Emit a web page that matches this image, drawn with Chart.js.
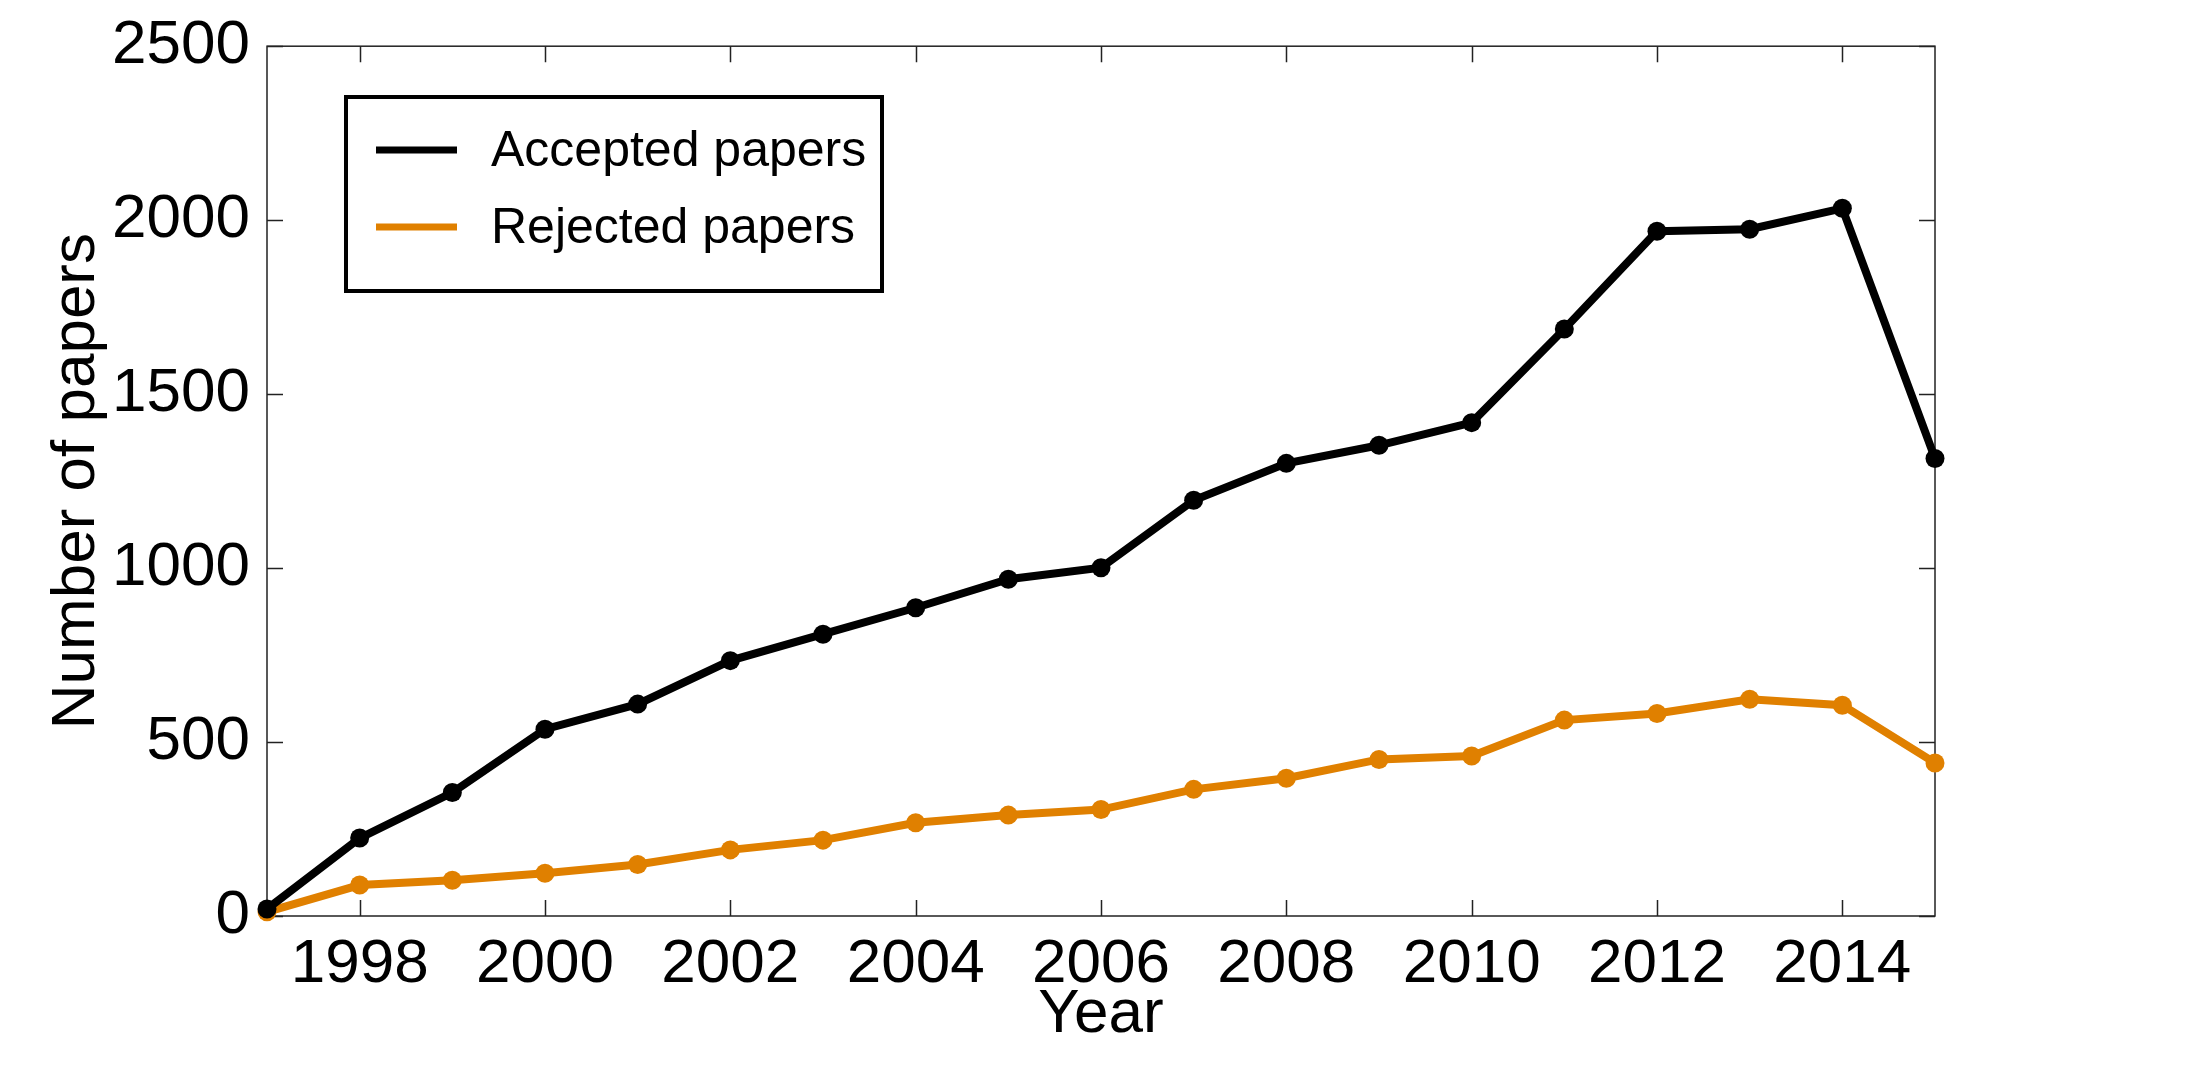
<!DOCTYPE html>
<html>
<head>
<meta charset="utf-8">
<title>Number of papers</title>
<script src="https://cdn.jsdelivr.net/npm/chart.js@4"></script>
<style>
  html, body { margin: 0; padding: 0; background: #fff; }
  canvas { display: block; }
</style>
</head>
<body>
<canvas id="papersChart" width="2194" height="1078"></canvas>
<script>
// Data
const years = [1997, 1998, 1999, 2000, 2001, 2002, 2003, 2004, 2005, 2006,
  2007, 2008, 2009, 2010, 2011, 2012, 2013, 2014, 2015];
const accepted = [20, 224, 355, 537, 609, 734, 810, 886, 968, 1001,
  1195, 1301, 1353, 1418, 1687, 1968, 1974, 2034, 1315];
const rejected = [12, 89, 103, 123, 148, 190, 218, 268, 290, 306,
  364, 396, 450, 460, 563, 582, 623, 606, 440];
const xTicks = [1998, 2000, 2002, 2004, 2006, 2008, 2010, 2012, 2014];
const yTicks = [0, 500, 1000, 1500, 2000, 2500];

const FONT = "'Liberation Sans', Arial, Helvetica, sans-serif";
const ORANGE = "rgb(224, 128, 0)";

// Frame with inward tick marks on all four sides (matlab style)
const frameTicks = {
  id: "frameTicks",
  beforeDatasetsDraw(chart) {
    const { ctx, chartArea: a, scales } = chart;
    const len = 16;
    ctx.save();
    ctx.strokeStyle = "#222";
    ctx.lineWidth = 1.5;
    ctx.strokeRect(a.left, a.top, a.right - a.left, a.bottom - a.top);
    ctx.beginPath();
    xTicks.forEach((v) => {
      const x = Math.round(scales.x.getPixelForValue(v)) + 0.5;
      ctx.moveTo(x, a.bottom);
      ctx.lineTo(x, a.bottom - len);
      ctx.moveTo(x, a.top);
      ctx.lineTo(x, a.top + len);
    });
    yTicks.forEach((v) => {
      const y = Math.round(scales.y.getPixelForValue(v)) + 0.5;
      ctx.moveTo(a.left, y);
      ctx.lineTo(a.left + len, y);
      ctx.moveTo(a.right, y);
      ctx.lineTo(a.right - len, y);
    });
    ctx.stroke();
    ctx.restore();
  }
};

// Boxed legend in the upper left corner
const boxLegend = {
  id: "boxLegend",
  afterDraw(chart) {
    const { ctx } = chart;
    const box = { left: 346, top: 97, right: 882, bottom: 291 };
    ctx.save();
    ctx.fillStyle = "#fff";
    ctx.fillRect(box.left, box.top, box.right - box.left, box.bottom - box.top);
    ctx.strokeStyle = "#000";
    ctx.lineWidth = 4;
    ctx.strokeRect(box.left, box.top, box.right - box.left, box.bottom - box.top);
    ctx.font = "50px " + FONT;
    ctx.textBaseline = "middle";
    ctx.textAlign = "left";
    chart.data.datasets.forEach((ds, i) => {
      const y = 150 + i * 77;
      ctx.strokeStyle = ds.borderColor;
      ctx.lineWidth = 7;
      ctx.beginPath();
      ctx.moveTo(376, y);
      ctx.lineTo(457, y);
      ctx.stroke();
      ctx.fillStyle = "#000";
      ctx.fillText(ds.label, 491, y + 2);
    });
    ctx.restore();
  }
};

const ctx = document.getElementById("papersChart").getContext("2d");
new Chart(ctx, {
  type: "line",
  data: {
    datasets: [
      {
        label: "Accepted papers",
        data: years.map((y, i) => ({ x: y, y: accepted[i] })),
        borderColor: "#000",
        backgroundColor: "#000",
        borderWidth: 8,
        pointRadius: 9.5,
        pointBorderWidth: 0,
        tension: 0,
        clip: false
      },
      {
        label: "Rejected papers",
        data: years.map((y, i) => ({ x: y, y: rejected[i] })),
        borderColor: ORANGE,
        backgroundColor: ORANGE,
        borderWidth: 8,
        pointRadius: 9.5,
        pointBorderWidth: 0,
        tension: 0,
        clip: false
      }
    ]
  },
  options: {
    responsive: false,
    animation: false,
    devicePixelRatio: 1,
    layout: { padding: { top: 46, right: 259, left: 0, bottom: 0 } },
    plugins: {
      legend: { display: false },
      tooltip: { enabled: false }
    },
    scales: {
      x: {
        type: "linear",
        min: 1997,
        max: 2015,
        offset: false,
        grid: { display: false },
        border: { display: false },
        afterBuildTicks: (scale) => {
          scale.ticks = xTicks.map((v) => ({ value: v }));
        },
        afterFit: (scale) => { scale.height = 162; },
        ticks: {
          autoSkip: false,
          maxRotation: 0,
          padding: 4,
          color: "#000",
          font: { family: FONT, size: 62 },
          callback: (v) => String(v)
        },
        title: {
          display: true,
          text: "Year",
          color: "#000",
          font: { family: FONT, size: 62 },
          padding: { top: 0, bottom: 26 }
        }
      },
      y: {
        min: 0,
        max: 2500,
        grid: { display: false },
        border: { display: false },
        afterBuildTicks: (scale) => {
          scale.ticks = yTicks.map((v) => ({ value: v }));
        },
        afterFit: (scale) => { scale.width = 267; },
        ticks: {
          padding: 9,
          color: "#000",
          font: { family: FONT, size: 62 },
          callback: (v) => String(v)
        },
        title: {
          display: true,
          text: "Number of papers",
          color: "#000",
          font: { family: FONT, size: 62 },
          padding: { top: 40, bottom: 0 }
        }
      }
    }
  },
  plugins: [frameTicks, boxLegend]
});
</script>
</body>
</html>
